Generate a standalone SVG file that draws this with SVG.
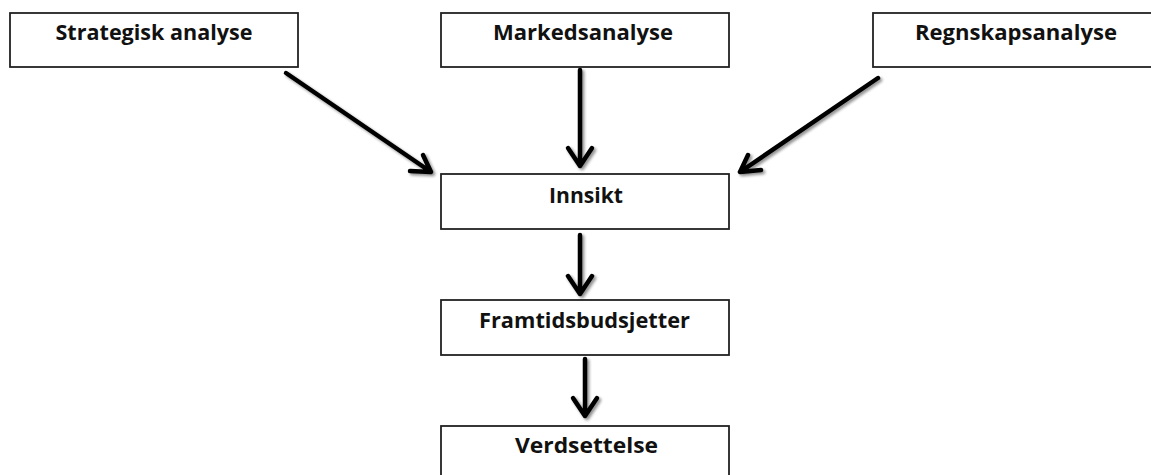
<svg xmlns="http://www.w3.org/2000/svg" width="1151" height="475" viewBox="0 0 1151 475">
<style>
.box{fill:#fff;stroke:#222;stroke-width:1.8}
.lbl{font-family:"Open Sans","Noto Sans","Liberation Sans",sans-serif;font-weight:bold;font-size:21.5px;fill:#111;text-anchor:middle}
.arr{fill:none;stroke:#000;stroke-width:4.5;stroke-linecap:round;stroke-linejoin:round}
</style>
<defs>
<filter id="sh" x="-20%" y="-20%" width="140%" height="140%">
<feGaussianBlur in="SourceAlpha" stdDeviation="1.5"/>
<feOffset dx="1.5" dy="2" result="b"/>
<feComponentTransfer><feFuncA type="linear" slope="0.45"/></feComponentTransfer>
<feMerge><feMergeNode/><feMergeNode in="SourceGraphic"/></feMerge>
</filter>
</defs>
<rect width="1151" height="475" fill="#fff"/>
<g id="strategisk">
<rect class="box" x="10" y="13" width="288" height="54"/>
<text class="lbl" x="154" y="40" textLength="197" lengthAdjust="spacingAndGlyphs">Strategisk analyse</text>
</g>
<g id="markedsanalyse">
<rect class="box" x="441" y="13" width="288" height="54"/>
<text class="lbl" x="583" y="40" textLength="180" lengthAdjust="spacingAndGlyphs">Markedsanalyse</text>
</g>
<g id="regnskapsanalyse">
<rect class="box" x="873" y="13" width="288" height="54"/>
<text class="lbl" x="1016" y="40" textLength="202" lengthAdjust="spacingAndGlyphs">Regnskapsanalyse</text>
</g>
<g id="innsikt">
<rect class="box" x="441" y="174" width="288" height="55"/>
<text class="lbl" x="586" y="203" textLength="74" lengthAdjust="spacingAndGlyphs">Innsikt</text>
</g>
<g id="framtidsbudsjetter">
<rect class="box" x="441" y="300" width="288" height="55"/>
<text class="lbl" x="584.5" y="328" textLength="211" lengthAdjust="spacingAndGlyphs">Framtidsbudsjetter</text>
</g>
<g id="verdsettelse">
<rect class="box" x="441" y="426" width="288" height="60"/>
<text class="lbl" x="586.5" y="453" textLength="143" lengthAdjust="spacingAndGlyphs">Verdsettelse</text>
</g>
<g id="connectors" filter="url(#sh)">
<path class="arr" d="M286 73 L431 172 M410 171 L431 172 L423 155"/>
<path class="arr" d="M580 70 L580 166 M568 148 L580 166 L592 148"/>
<path class="arr" d="M878 78 L740 172 M748 155 L740 172 L761 170"/>
<path class="arr" d="M580 235 L580 294 M568 276 L580 294 L592 276"/>
<path class="arr" d="M585 359 L585 416 M573 398 L585 416 L597 398"/>
</g>
</svg>
